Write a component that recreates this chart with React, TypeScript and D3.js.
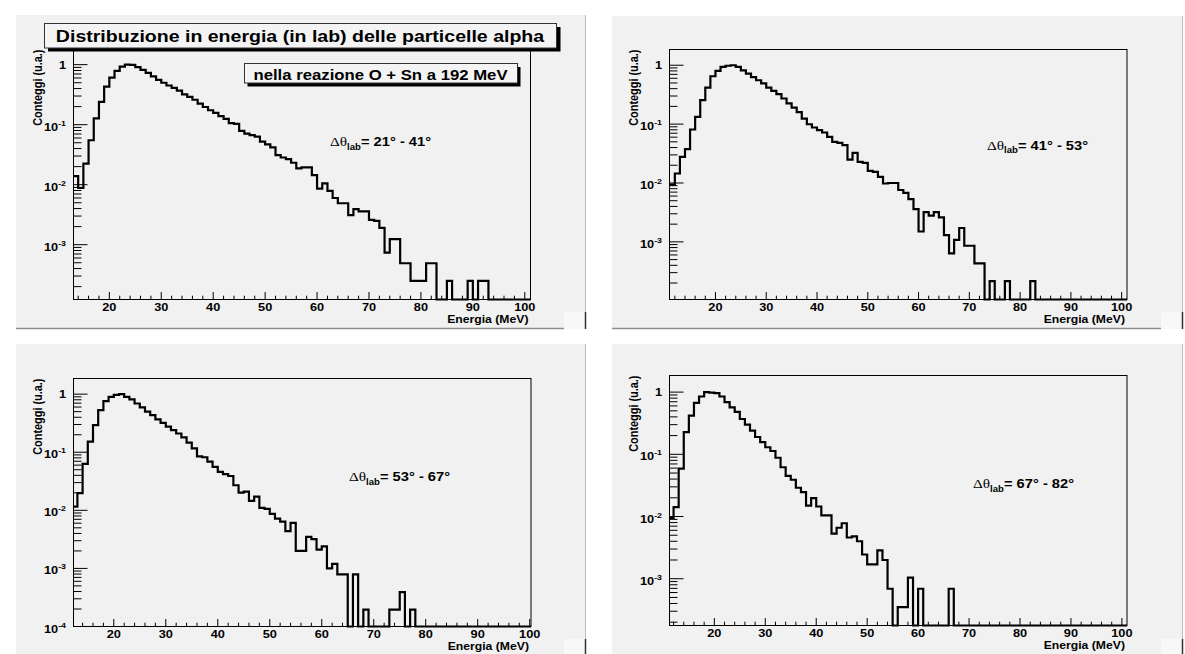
import React from "react";
import * as d3 from "d3";

// ---------------- data ----------------
const titleText = "Distribuzione in energia (in lab) delle particelle alpha";
const subtitleText = "nella reazione O + Sn a 192 MeV";
const xAxisTitle = "Energia (MeV)";
const yAxisTitle = "Conteggi (u.a.)";
const xTickValues = [20, 30, 40, 50, 60, 70, 80, 90, 100];
const xMinorStep = 2;
const angleRanges = ["21° - 41°", "41° - 53°", "53° - 67°", "67° - 82°"];
const binWidth = 1; // MeV

const p1FirstBin = 13;
const p1Values = [
  0.0139, 0.0088, 0.0225, 0.055, 0.127, 0.24, 0.43, 0.61, 0.79, 0.93, // 13-22
  1.0, 0.99, 0.91, 0.82, 0.73, 0.64, 0.56, 0.5, 0.45, 0.41, // 23-32
  0.37, 0.32, 0.29, 0.26, 0.225, 0.197, 0.174, 0.157, 0.139, 0.125, // 33-42
  0.106, 0.103, 0.079, 0.071, 0.067, 0.063, 0.052, 0.047, 0.042, 0.031, // 43-52
  0.0284, 0.0266, 0.0232, 0.0187, 0.0194, 0.0194, 0.0144, 0.0086, 0.0105, 0.0079, // 53-62
  0.006, 0.0049, 0.0049, 0.0031, 0.0039, 0.0036, 0.0036, 0.0026, 0.0025, 0.0019, // 63-72
  0.00074, 0.00124, 0.00124, 0.00049, 0.00049, 0.00025, 0.00025, 0.00025, 0.00049, 0.00049, // 73-82
  0, 0, 0.00025, 0, 0, 0, 0.00025, 0, 0.00025, 0.00025, // 83-92
  0, 0, 0, 0, 0, 0, 0, 0, 0, // 93-101
];

const p2FirstBin = 11;
const p2Values = [
  0.0094, 0.0145, 0.0277, 0.0375, 0.081, 0.133, 0.255, 0.418, 0.65, 0.8, // 11-20
  0.935, 0.98, 1.0, 0.935, 0.82, 0.72, 0.63, 0.556, 0.49, 0.418, // 21-30
  0.366, 0.322, 0.272, 0.225, 0.19, 0.16, 0.124, 0.0995, 0.0875, 0.079, // 31-40
  0.072, 0.0607, 0.05, 0.048, 0.044, 0.025, 0.0325, 0.0228, 0.022, 0.016, // 41-50
  0.0154, 0.0127, 0.0098, 0.01, 0.01, 0.0076, 0.0068, 0.0053, 0.0036, 0.0015, // 51-60
  0.0032, 0.0028, 0.0032, 0.0026, 0.0013, 0.00064, 0.00108, 0.00172, 0.00086, 0.00086, // 61-70
  0.00043, 0.00043, 0, 0.000215, 0, 0, 0.000215, 0, 0, 0, // 71-80
  0, 0.000215, 0, 0, 0, 0, 0, 0, 0, 0, // 81-90
  0, 0, 0, 0, 0, 0, 0, 0, 0, 0, 0, // 91-101
];

const p3FirstBin = 12;
const p3Values = [
  0.0116, 0.0197, 0.063, 0.152, 0.293, 0.53, 0.76, 0.9, 0.97, 1.0, // 12-21
  0.9, 0.81, 0.69, 0.59, 0.5, 0.435, 0.367, 0.32, 0.275, 0.24, // 22-31
  0.21, 0.18, 0.146, 0.117, 0.085, 0.082, 0.069, 0.056, 0.046, 0.042, // 32-41
  0.039, 0.027, 0.0202, 0.021, 0.0145, 0.0172, 0.011, 0.0106, 0.0087, 0.0072, // 42-51
  0.0064, 0.0044, 0.0061, 0.002, 0.002, 0.0035, 0.0032, 0.0021, 0.0024, 0.001, // 52-61
  0.0012, 0.00079, 0.00079, 0, 0.00079, 0, 0.000195, 0, 0, 0, // 62-71
  0, 0.000195, 0.000195, 0.00039, 0, 0.000195, 0, 0, 0, 0, // 72-81
  0, 0, 0, 0, 0, 0, 0, 0, 0, 0, // 82-91
  0, 0, 0, 0, 0, 0, 0, 0, 0, // 92-100
];

const p4FirstBin = 11;
const p4Values = [
  0.0095, 0.0142, 0.059, 0.227, 0.42, 0.67, 0.85, 1.0, 0.98, 0.96, // 11-20
  0.85, 0.69, 0.57, 0.48, 0.37, 0.3, 0.24, 0.19, 0.157, 0.13, // 21-30
  0.113, 0.088, 0.062, 0.045, 0.039, 0.029, 0.0247, 0.015, 0.0198, 0.0145, // 31-40
  0.0104, 0.0104, 0.0053, 0.0066, 0.0078, 0.0046, 0.0048, 0.004, 0.00245, 0.0017, // 41-50
  0.0017, 0.00285, 0.002, 0.00069, 0, 0.00035, 0.00035, 0.00104, 0, 0.00069, // 51-60
  0, 0, 0, 0, 0, 0.00069, 0, 0, 0, 0, // 61-70
  0, 0, 0, 0, 0, 0, 0, 0, 0, 0, // 71-80
  0, 0, 0, 0, 0, 0, 0, 0, 0, 0, // 81-90
  0, 0, 0, 0, 0, 0, 0, 0, 0, 0, // 91-100
];

// ---------------- layout ----------------
const W = 1185;
const H = 654;
const FONT = "'Liberation Sans', Arial, Helvetica, sans-serif";
const SX = 1.13; // horizontal stretch of the original rendering

const layouts = [
  { pad: [16, 15, 586, 329], frame: [73.5, 49.5, 530.5, 299.5], xDom: [13.1, 101.1], yDom: [1.22e-4, 1.79], label: [330, 146] },
  { pad: [612, 16, 1183, 329], frame: [669.5, 49.5, 1127, 299.5], xDom: [10.95, 101.05], yDom: [1.05e-4, 1.85], label: [987, 149.5] },
  { pad: [16, 344, 586, 656], frame: [73.5, 378.5, 531, 626.5], xDom: [12.25, 100.25], yDom: [1e-4, 1.86], label: [349, 481] },
  { pad: [612, 344, 1183, 656], frame: [669.5, 375.5, 1127, 625.5], xDom: [11.2, 101.0], yDom: [1.77e-4, 1.85], label: [973, 488] },
];

const panels = [
  { firstBin: p1FirstBin, values: p1Values, angle: angleRanges[0], layout: layouts[0] },
  { firstBin: p2FirstBin, values: p2Values, angle: angleRanges[1], layout: layouts[1] },
  { firstBin: p3FirstBin, values: p3Values, angle: angleRanges[2], layout: layouts[2] },
  { firstBin: p4FirstBin, values: p4Values, angle: angleRanges[3], layout: layouts[3] },
];

function Panel({ cfg, idx }: { cfg: any; idx: number }) {
  const { pad, frame, xDom, yDom, label } = cfg.layout;
  const [px1, py1, px2, py2] = pad;
  const [fx1, fy1, fx2, fy2] = frame;
  const x = d3.scaleLinear().domain(xDom).range([fx1, fx2]);
  const y = d3.scaleLog().domain(yDom).range([fy2, fy1]);
  const yv = (v: number) => y(Math.max(v, yDom[0]));

  let d = "";
  cfg.values.forEach((v: number, i: number) => {
    const x0 = x(cfg.firstBin + i * binWidth);
    const x1 = x(cfg.firstBin + (i + 1) * binWidth);
    d += i === 0 ? `M${x0},${yv(v)}` : `V${yv(v)}`;
    d += `H${x1}`;
  });

  const yTicks: { v: number; major: boolean; e: number }[] = [];
  const eMin = Math.floor(Math.log10(yDom[0]) + 1e-9);
  const eMax = Math.ceil(Math.log10(yDom[1]));
  for (let e = eMin; e <= eMax; e++) {
    for (let k = 1; k <= 9; k++) {
      const v = k * Math.pow(10, e);
      if (v >= yDom[0] * 0.999 && v <= yDom[1]) yTicks.push({ v, major: k === 1, e });
    }
  }
  const xTicks: { v: number; major: boolean }[] = [];
  for (let v = Math.ceil(xDom[0] / xMinorStep) * xMinorStep; v <= xDom[1]; v += xMinorStep) {
    xTicks.push({ v, major: xTickValues.includes(v) });
  }

  const clipId = `clip${idx}`;
  const [lx, ly] = label;

  return (
    <g>
      <rect x={px1} y={py1} width={px2 - px1} height={py2 - py1} fill="#f1f1f1" />
      <line x1={px1} x2={px2 - 22} y1={py2 - 0.5} y2={py2 - 0.5} stroke="#8e8e8e" strokeWidth={1.5} />
      <line x1={px2 - 0.5} x2={px2 - 0.5} y1={py1} y2={py2} stroke="#bdbdbd" strokeWidth={1} />
      <rect x={px2 - 22} y={py2 - 17} width={22} height={17} fill="#f8f8f8" />
      <line x1={px2 - 0.5} x2={px2 - 0.5} y1={py2 - 17} y2={py2} stroke="#333" strokeWidth={1.5} />

      <defs>
        <clipPath id={clipId}>
          <rect x={fx1} y={fy1 - 3} width={fx2 - fx1} height={fy2 - fy1 + 6} />
        </clipPath>
      </defs>
      <path d={d} fill="none" stroke="#000" strokeWidth={2.2} clipPath={`url(#${clipId})`} />

      {yTicks.map((t, i) => (
        <line key={`yt${i}`} x1={fx1} x2={fx1 + (t.major ? 14 : 8)} y1={y(t.v)} y2={y(t.v)} stroke="#000" strokeWidth={1} />
      ))}
      {xTicks.map((t, i) => (
        <line key={`xt${i}`} x1={x(t.v)} x2={x(t.v)} y1={fy2} y2={fy2 - (t.major ? 7.5 : 3.8)} stroke="#000" strokeWidth={1} />
      ))}
      <rect x={fx1} y={fy1} width={fx2 - fx1} height={fy2 - fy1} fill="none" stroke="#000" strokeWidth={1} />

      {yTicks.filter((t) => t.major).map((t, i) => (
        <text
          key={`yl${i}`}
          transform={`translate(${fx1 - 7.5},${y(t.v) + (t.e === 0 ? 4 : 6)}) scale(${SX},1)`}
          textAnchor="end"
          fontFamily={FONT}
          fontWeight="bold"
          fontSize={11.3}
          fill="#000"
        >
          {t.e === 0 ? "1" : (
            <>
              10<tspan fontSize={7.8} dy={-5}>{String(t.e)}</tspan>
            </>
          )}
        </text>
      ))}
      {xTickValues.filter((v) => v >= xDom[0] && v <= xDom[1]).map((v, i) => (
        <text
          key={`xl${i}`}
          transform={`translate(${x(v)},${fy2 + 11.5}) scale(${SX},1)`}
          textAnchor="middle"
          fontFamily={FONT}
          fontWeight="bold"
          fontSize={11.3}
          fill="#000"
        >
          {v}
        </text>
      ))}
      <text
        transform={`translate(${fx2 - 2},${fy2 + 23.6}) scale(${SX},1)`}
        textAnchor="end"
        fontFamily={FONT}
        fontWeight="bold"
        fontSize={10.8}
        fill="#000"
      >
        {xAxisTitle}
      </text>
      <text
        transform={`translate(${fx1 - 32},${fy1}) scale(${SX},1) rotate(-90)`}
        textAnchor="end"
        fontFamily={FONT}
        fontWeight="bold"
        fontSize={10.9}
        fill="#000"
      >
        {yAxisTitle}
      </text>

      <text transform={`translate(${lx},${ly}) scale(${SX},1)`} fontFamily={FONT} fill="#000">
        <tspan fontFamily="'Liberation Serif', 'DejaVu Serif', serif" fontSize={13.5}>Δθ</tspan>
        <tspan fontWeight="bold" fontSize={8.5} dy={3.5}>lab</tspan>
        <tspan fontWeight="bold" fontSize={13} dy={-3.5}>{"= " + cfg.angle}</tspan>
      </text>
    </g>
  );
}

export default function App() {
  return (
    <div style={{ position: "absolute", left: 0, top: 0, width: W, height: H, background: "#fff" }}>
      <svg width={W} height={H} viewBox={`0 0 ${W} ${H}`} style={{ display: "block" }}>
        <rect x={0} y={0} width={W} height={H} fill="#ffffff" />
        {panels.map((p, i) => (
          <Panel key={i} cfg={p} idx={i} />
        ))}
        {/* title box */}
        <rect x={48} y={27} width={512.5} height={24.5} fill="#000" />
        <rect x={44.5} y={23.5} width={512} height={24.5} fill="#f4f4f4" stroke="#333" strokeWidth={1} />
        <text
          transform={`translate(300,41.7) scale(${SX},1)`}
          textAnchor="middle"
          fontFamily={FONT}
          fontWeight="bold"
          fontSize={17.3}
          fill="#000"
        >
          {titleText}
        </text>
        {/* subtitle box */}
        <rect x={247.5} y={67} width={273} height={19.5} fill="#000" />
        <rect x={244.5} y={63.5} width={273} height={19.5} fill="#f4f4f4" stroke="#333" strokeWidth={1} />
        <text
          transform={`translate(380.5,79.8) scale(${SX},1)`}
          textAnchor="middle"
          fontFamily={FONT}
          fontWeight="bold"
          fontSize={14.8}
          fill="#000"
        >
          {subtitleText}
        </text>
      </svg>
    </div>
  );
}
